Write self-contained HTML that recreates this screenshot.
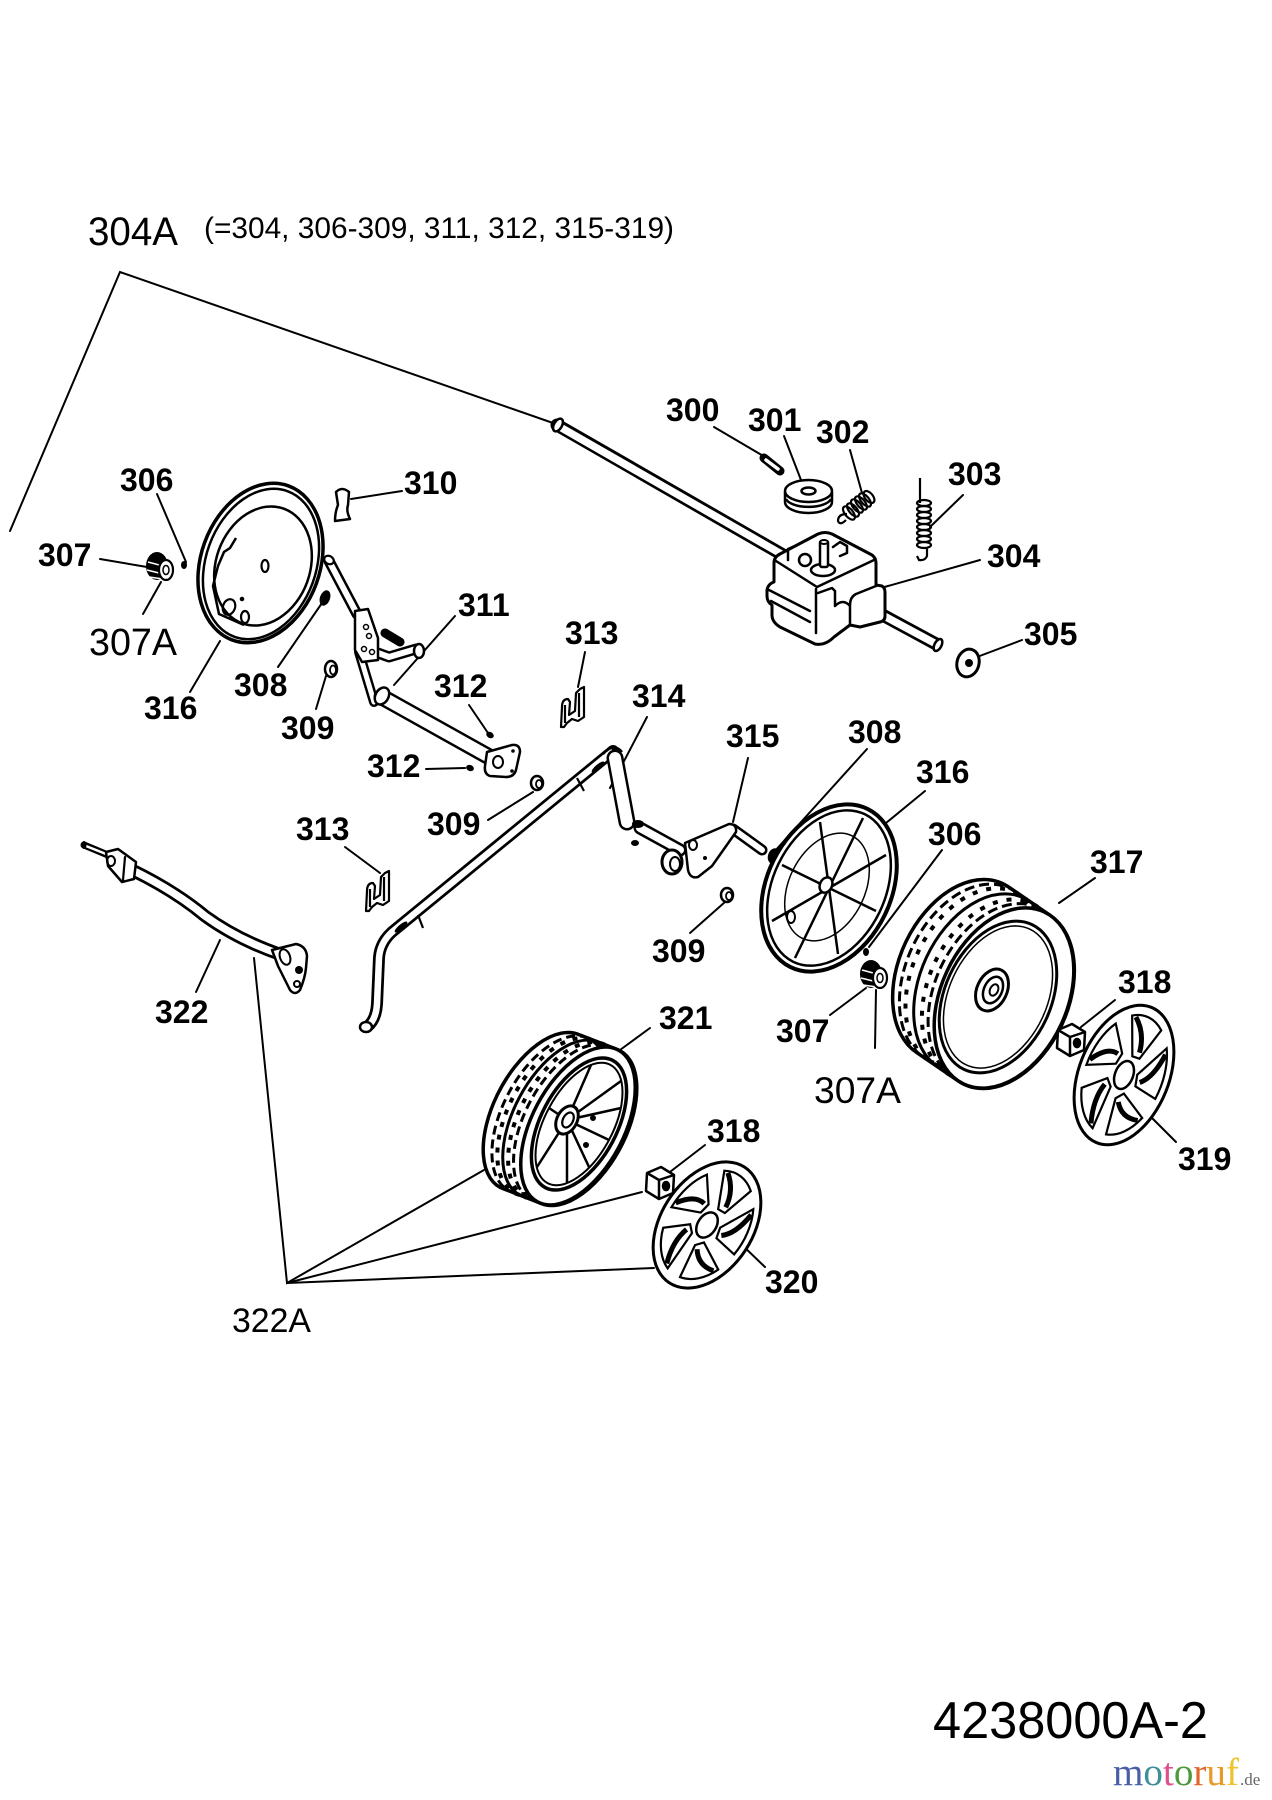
<!DOCTYPE html>
<html><head><meta charset="utf-8"><title>4238000A-2</title><style>
html,body{margin:0;padding:0;background:#fff;}
svg{display:block;}
.b{font-family:"Liberation Sans",Arial,sans-serif;font-weight:bold;font-size:32px;fill:#000;stroke:none;}
.n{font-family:"Liberation Sans",Arial,sans-serif;fill:#000;stroke:none;}
</style></head><body>
<svg width="1272" height="1800" viewBox="0 0 1272 1800" xmlns="http://www.w3.org/2000/svg" xmlns:xlink="http://www.w3.org/1999/xlink">
<rect width="1272" height="1800" fill="#fff"/>
<defs>
<g id="win">
<path d="M19,-5 L46,-39 A60,60 0 0 1 59,10 L23,6 Z" fill="#fff" stroke="#000" stroke-width="2.2" vector-effect="non-scaling-stroke"/>
<path d="M27,1 Q44,-8 48,-33" fill="none" stroke="#000" stroke-width="5" vector-effect="non-scaling-stroke"/>
</g>
<g id="hc">
<circle r="70" fill="#fff" stroke="#000" stroke-width="3" vector-effect="non-scaling-stroke"/>
<use href="#win"/>
<use href="#win" transform="rotate(72)"/>
<use href="#win" transform="rotate(144)"/>
<use href="#win" transform="rotate(216)"/>
<use href="#win" transform="rotate(288)"/>
<circle r="14" fill="#fff" stroke="#000" stroke-width="2.5" vector-effect="non-scaling-stroke"/>
</g>
<g id="clip" fill="#fff" stroke="#000" stroke-width="2.2" stroke-linejoin="round">
<path d="M3,40 L4,20 Q4,12 10,12 L12,15 L11,28 L17,24 L18,6 L22,2 L26,0 L26,30 L20,34 L14,32 L9,36 L6,40 Z"/>
<path d="M21,6 L21,30 M7,18 L7,36" fill="none"/>
</g>
<g id="pin">
<ellipse cx="-4" cy="-2" rx="11" ry="14" fill="#000"/>
<path d="M-13,-6 L2,-2 M-14,2 L2,6 M-12,9 L2,11" stroke="#fff" stroke-width="1.5" fill="none"/>
<ellipse cx="5" cy="2" rx="7" ry="10" fill="#fff" stroke="#000" stroke-width="2.2"/>
<ellipse cx="5" cy="2" rx="3" ry="4.5" fill="none" stroke="#000" stroke-width="1.5"/>
</g>
<g id="nut" stroke="#000" stroke-width="2.5" stroke-linejoin="round">
<polygon points="-13,-10 1,-16 14,-8 13,10 -1,16 -14,8" fill="#fff"/>
<path d="M-13,-10 L-1,-3 L14,-8 M-1,-3 L-1,16" fill="none"/>
<ellipse cx="6" cy="3" rx="3" ry="4" fill="#000"/>
</g>
</defs>

<!-- leader lines -->
<g stroke="#000" stroke-width="2" fill="none" stroke-linecap="round">
<polyline points="10,531 120,272 553,423"/>
<line x1="157" y1="494" x2="186" y2="562"/>
<line x1="100" y1="559" x2="147" y2="567"/>
<line x1="161" y1="582" x2="143" y2="614"/>
<line x1="220" y1="641" x2="190" y2="692"/>
<line x1="351" y1="499" x2="402" y2="491"/>
<line x1="322" y1="603" x2="278" y2="667"/>
<line x1="326" y1="676" x2="316" y2="709"/>
<line x1="455" y1="616" x2="394" y2="685"/>
<line x1="469" y1="705" x2="488" y2="733"/>
<line x1="426" y1="769" x2="465" y2="768"/>
<line x1="585" y1="652" x2="578" y2="687"/>
<line x1="345" y1="847" x2="380" y2="873"/>
<line x1="533" y1="792" x2="488" y2="820"/>
<line x1="647" y1="717" x2="610" y2="788"/>
<line x1="748" y1="758" x2="733" y2="822"/>
<line x1="867" y1="749" x2="774" y2="852"/>
<line x1="925" y1="791" x2="886" y2="823"/>
<line x1="942" y1="850" x2="869" y2="947"/>
<line x1="725" y1="902" x2="690" y2="933"/>
<line x1="866" y1="988" x2="830" y2="1015"/>
<line x1="876" y1="990" x2="875" y2="1048"/>
<line x1="1095" y1="878" x2="1059" y2="903"/>
<line x1="1115" y1="1000" x2="1081" y2="1027"/>
<line x1="1146" y1="1112" x2="1176" y2="1142"/>
<line x1="714" y1="427" x2="765" y2="457"/>
<line x1="784" y1="436" x2="801" y2="480"/>
<line x1="850" y1="450" x2="862" y2="493"/>
<line x1="963" y1="495" x2="930" y2="527"/>
<line x1="980" y1="560" x2="881" y2="588"/>
<line x1="977" y1="657" x2="1022" y2="640"/>
<line x1="220" y1="940" x2="196" y2="992"/>
<polyline points="254,958 287,1283 484,1170"/>
<line x1="287" y1="1283" x2="642" y2="1192"/>
<line x1="287" y1="1283" x2="654" y2="1268"/>
<line x1="650" y1="1028" x2="620" y2="1050"/>
<line x1="705" y1="1145" x2="666" y2="1175"/>
<line x1="739" y1="1242" x2="765" y2="1267"/>
</g>

<!-- cable rod 304 -->
<line x1="557" y1="425" x2="790" y2="559" stroke="#000" stroke-width="13" stroke-linecap="round"/>
<line x1="560" y1="427" x2="790" y2="559" stroke="#fff" stroke-width="7.5"/>
<ellipse cx="558" cy="425" rx="4" ry="7" transform="rotate(30 558 425)" fill="#fff" stroke="#000" stroke-width="2.5"/>

<!-- output shaft -->
<line x1="866" y1="606" x2="938" y2="645" stroke="#000" stroke-width="13" stroke-linecap="butt"/>
<line x1="860" y1="603" x2="938" y2="645" stroke="#fff" stroke-width="7.5"/>
<ellipse cx="938" cy="645" rx="3.5" ry="6.5" transform="rotate(28 938 645)" fill="#fff" stroke="#000" stroke-width="2.5"/>

<!-- gearbox -->
<g stroke="#000" stroke-width="3" stroke-linejoin="round" stroke-linecap="round">
<path d="M774,563 Q774,557 780,554 L818,534 Q825,531 832,534 L872,555 Q876,558 876,563 L876,585 L882,586 Q885,588 885,592 L885,616 Q885,621 880,622 L860,627 L850,625 L834,637 Q825,646 815,644 L780,627 Q772,622 772,615 L772,605 Q767,602 767,596 L767,590 Q768,584 774,582 Z" fill="#fff"/>
<path d="M776,561 L817,587 L874,560 M816,589 L816,633 M769,590 L810,611 M771,601 L810,622 M856,594 L876,586 M856,594 Q850,597 850,605 L850,625 M818,593 L832,588 L835,591 L835,606 Q843,598 850,606" fill="none" stroke-width="2.5"/>
<circle cx="805" cy="560" r="6" fill="#fff" stroke-width="2.5"/>
<ellipse cx="823" cy="570" rx="12" ry="6" fill="#fff" stroke-width="2.5"/>
<rect x="820" y="541" width="8" height="26" rx="2" fill="#fff" stroke-width="2.5"/>
<ellipse cx="824" cy="542" rx="4" ry="2" fill="#fff" stroke-width="2"/>
<path d="M833,547 L840,542 L847,546 L847,553 L840,556 M788,560 L788,549 L795,546" fill="none" stroke-width="2.5"/>
</g>

<!-- 305 washer -->
<ellipse cx="968" cy="663" rx="11" ry="14" transform="rotate(15 968 663)" fill="#fff" stroke="#000" stroke-width="3"/>
<circle cx="969" cy="663" r="4" fill="#000"/>

<!-- 300 pin -->
<line x1="764" y1="458" x2="780" y2="471" stroke="#000" stroke-width="9" stroke-linecap="round"/>
<line x1="766" y1="460" x2="778" y2="469" stroke="#fff" stroke-width="3.5" stroke-linecap="round"/>

<!-- 301 pulley -->
<g stroke="#000" stroke-width="2.5" fill="#fff">
<path d="M785,492 L785,502 A23.5,11 0 0 0 832,502 L832,492"/>
<path d="M786,499 A23,10 0 0 0 831,499" fill="none"/>
<ellipse cx="808.5" cy="491" rx="23.5" ry="11"/>
<ellipse cx="808.5" cy="491" rx="7" ry="3.5"/>
</g>

<!-- 302 spring -->
<g stroke="#000" stroke-width="2.2" fill="none">
<path d="M847,514 Q838,514 838,521 Q840,526 846,520"/>
<ellipse cx="849" cy="513" rx="4" ry="8" transform="rotate(-40 849 513)"/>
<ellipse cx="853" cy="510" rx="4" ry="8" transform="rotate(-40 853 510)"/>
<ellipse cx="857" cy="506" rx="4" ry="8" transform="rotate(-40 857 506)"/>
<ellipse cx="861" cy="503" rx="4" ry="8" transform="rotate(-40 861 503)"/>
<ellipse cx="865" cy="500" rx="4" ry="8" transform="rotate(-40 865 500)"/>
<ellipse cx="869" cy="497" rx="4" ry="7" transform="rotate(-40 869 497)"/>
</g>

<!-- 303 spring -->
<g stroke="#000" stroke-width="2.2" fill="none">
<path d="M920,478 L920,503"/>
<ellipse cx="924" cy="503" rx="7" ry="3"/>
<ellipse cx="924" cy="509" rx="7" ry="3"/>
<ellipse cx="924" cy="515" rx="7" ry="3"/>
<ellipse cx="924" cy="521" rx="7" ry="3"/>
<ellipse cx="924" cy="527" rx="7" ry="3"/>
<ellipse cx="924" cy="533" rx="7" ry="3"/>
<ellipse cx="924" cy="539" rx="7" ry="3"/>
<ellipse cx="924" cy="545" rx="7" ry="3"/>
<path d="M927,548 L927,556 Q925,561 919,560 L917,556"/>
</g>

<!-- left plate 316 -->
<g stroke="#000" fill="none">
<ellipse cx="260.5" cy="563" rx="59.5" ry="82" transform="rotate(20 260.5 563)" fill="#fff" stroke-width="3.5"/>
<ellipse cx="261" cy="564" rx="55" ry="77.5" transform="rotate(20 261 564)" stroke-width="2.5"/>
<ellipse cx="263" cy="566" rx="47" ry="61" transform="rotate(20 263 566)" stroke-width="2.5"/>
<path d="M236,538 L230,548 L224,552 L218,566 L213,586 L219,614 L244,625" stroke-width="2.5"/>
<ellipse cx="265" cy="566" rx="3.5" ry="6" stroke-width="2.2"/>
<ellipse cx="229" cy="607" rx="6" ry="8" transform="rotate(20 229 607)" stroke-width="2.2"/>
<ellipse cx="245" cy="617" rx="4" ry="6" stroke-width="2.2"/>
<circle cx="242" cy="599" r="1.8" fill="#000"/>
</g>

<!-- 307 left pinion, 306 screw -->
<use href="#pin" transform="translate(161,568)"/>
<ellipse cx="184" cy="565" rx="3" ry="4" fill="#000"/>

<!-- 310 knob -->
<path d="M336,492 Q342,486 349,492 L348,505 Q346,511 350,519 L335,521 Q335,512 338,505 Z" fill="#fff" stroke="#000" stroke-width="2.5" stroke-linejoin="round"/>
<!-- 308, 309 left -->
<ellipse cx="325" cy="598" rx="5" ry="8" transform="rotate(20 325 598)" fill="#000"/>
<ellipse cx="331" cy="669" rx="6" ry="8" fill="#fff" stroke="#000" stroke-width="2.5"/>
<ellipse cx="333" cy="670" rx="3" ry="4.5" fill="none" stroke="#000" stroke-width="1.8"/>

<!-- lever 311 -->
<g stroke-linecap="round" stroke-linejoin="round">
<polyline points="329,561 357,614" fill="none" stroke="#000" stroke-width="11"/>
<polyline points="329,561 357,614" fill="none" stroke="#fff" stroke-width="6"/>
<polyline points="359,652 374,702" fill="none" stroke="#000" stroke-width="10"/>
<polyline points="359,652 374,702" fill="none" stroke="#fff" stroke-width="5"/>
<line x1="385" y1="633" x2="400" y2="642" stroke="#000" stroke-width="9"/>
<polyline points="378,653 389,657 416,649" fill="none" stroke="#000" stroke-width="11"/>
<polyline points="378,653 389,657 416,649" fill="none" stroke="#fff" stroke-width="6"/>
<ellipse cx="419" cy="651" rx="5" ry="7" fill="#fff" stroke="#000" stroke-width="2.5"/>
<path d="M355,611 L368,609 L378,638 L378,660 L362,662 L355,650 Z" fill="#fff" stroke="#000" stroke-width="2.5"/>
<circle cx="366" cy="627" r="2.5" fill="none" stroke="#000" stroke-width="1.5"/>
<circle cx="369" cy="636" r="2.5" fill="none" stroke="#000" stroke-width="1.5"/>
<circle cx="364" cy="649" r="2.5" fill="none" stroke="#000" stroke-width="1.5"/>
<circle cx="372" cy="652" r="2.5" fill="none" stroke="#000" stroke-width="1.5"/>
<ellipse cx="329" cy="560" rx="5" ry="4" transform="rotate(30 329 560)" fill="#fff" stroke="#000" stroke-width="2.2"/>
<line x1="382" y1="697" x2="493" y2="759" stroke="#000" stroke-width="17"/>
<line x1="382" y1="697" x2="493" y2="759" stroke="#fff" stroke-width="12"/>
<ellipse cx="382" cy="696" rx="6.5" ry="9" transform="rotate(30 382 696)" fill="#fff" stroke="#000" stroke-width="2.5"/>
<path d="M487,752 L512,745 Q520,744 520,752 L516,770 Q514,777 506,777 L490,776 Q484,774 485,766 Z" fill="#fff" stroke="#000" stroke-width="2.5"/>
<ellipse cx="498" cy="762" rx="5" ry="6" fill="none" stroke="#000" stroke-width="2"/>
<circle cx="513" cy="751" r="1.8" fill="#000"/>
<circle cx="512" cy="771" r="1.8" fill="#000"/>
</g>
<!-- 312 screws -->
<ellipse cx="490" cy="735" rx="4" ry="3" transform="rotate(30 490 735)" fill="#000"/>
<ellipse cx="470" cy="768" rx="4" ry="3" transform="rotate(20 470 768)" fill="#000"/>
<!-- 313 clips -->
<use href="#clip" transform="translate(558,687)"/>
<use href="#clip" transform="translate(363,871)"/>
<!-- 309 mid -->
<ellipse cx="537" cy="783" rx="6" ry="7" fill="#fff" stroke="#000" stroke-width="2.5"/>
<ellipse cx="539" cy="784" rx="3" ry="4" fill="none" stroke="#000" stroke-width="1.8"/>

<!-- link bar 314 -->
<g fill="none" stroke-linejoin="round">
<path d="M613,751 L392,932 Q380,943 379,958 L377,1004 Q376,1020 367,1027" stroke="#000" stroke-width="12" stroke-linecap="round"/>
<path d="M613,751 L392,932 Q380,943 379,958 L377,1004 Q376,1020 367,1027" stroke="#fff" stroke-width="6.5"/>
<line x1="615" y1="758" x2="627" y2="822" stroke="#000" stroke-width="17" stroke-linecap="round"/>
<line x1="615" y1="758" x2="627" y2="822" stroke="#fff" stroke-width="12" stroke-linecap="round"/>
<path d="M603,754 Q614,742 622,752" stroke="#000" stroke-width="2.5"/>
<ellipse cx="598" cy="767" rx="8" ry="2.5" transform="rotate(-40 598 767)" fill="#000"/>
<ellipse cx="401" cy="927" rx="8" ry="2.5" transform="rotate(-40 401 927)" fill="#000"/>
<line x1="577" y1="778" x2="584" y2="791" stroke="#000" stroke-width="2.2"/>
<line x1="418" y1="915" x2="423" y2="928" stroke="#000" stroke-width="2.2"/>
<ellipse cx="366" cy="1027" rx="6" ry="5" fill="#fff" stroke="#000" stroke-width="2.5"/>
</g>

<!-- part 315 -->
<g stroke-linecap="round" stroke-linejoin="round">
<line x1="640" y1="828" x2="680" y2="850" stroke="#000" stroke-width="13"/>
<line x1="640" y1="828" x2="680" y2="850" stroke="#fff" stroke-width="8"/>
<ellipse cx="638" cy="824" rx="6" ry="4" fill="#000"/>
<ellipse cx="635" cy="843" rx="4" ry="3" fill="#000"/>
<line x1="733" y1="829" x2="762" y2="850" stroke="#000" stroke-width="11"/>
<line x1="733" y1="829" x2="762" y2="850" stroke="#fff" stroke-width="6"/>
<path d="M685,843 L729,824 Q737,824 736,832 L712,866 L698,877 Q690,879 688,870 Z" fill="#fff" stroke="#000" stroke-width="2.5"/>
<circle cx="705" cy="858" r="2" fill="#000"/>
<ellipse cx="693" cy="845" rx="4" ry="5" fill="none" stroke="#000" stroke-width="2"/>
<ellipse cx="672" cy="862" rx="10" ry="12" fill="#fff" stroke="#000" stroke-width="3"/>
<ellipse cx="675" cy="864" rx="5" ry="7" fill="none" stroke="#000" stroke-width="2"/>
</g>
<!-- 308, 309 right -->
<ellipse cx="774" cy="856" rx="6" ry="8" transform="rotate(20 774 856)" fill="#000"/>
<ellipse cx="727" cy="895" rx="6" ry="7" fill="#fff" stroke="#000" stroke-width="2.5"/>
<ellipse cx="729" cy="896" rx="3" ry="4" fill="none" stroke="#000" stroke-width="1.8"/>

<!-- right plate 316 -->
<g stroke="#000" fill="none">
<ellipse cx="829" cy="888" rx="62" ry="88" transform="rotate(26 829 888)" fill="#fff" stroke-width="4"/>
<ellipse cx="829" cy="888" rx="56" ry="82" transform="rotate(26 829 888)" stroke-width="2.5"/>
<ellipse cx="827" cy="887" rx="38" ry="57" transform="rotate(26 827 887)" stroke-width="1.5"/>
<g stroke-width="2.5">
<line x1="829" y1="888" x2="876" y2="911"/>
<line x1="829" y1="888" x2="838" y2="954"/>
<line x1="829" y1="888" x2="795" y2="958"/>
<line x1="829" y1="888" x2="772" y2="921"/>
<line x1="829" y1="888" x2="782" y2="865"/>
<line x1="829" y1="888" x2="820" y2="822"/>
<line x1="829" y1="888" x2="863" y2="818"/>
<line x1="829" y1="888" x2="886" y2="855"/>
</g>
<ellipse cx="826" cy="885" rx="6" ry="8" transform="rotate(26 826 885)" fill="#fff" stroke-width="2.5"/>
<ellipse cx="791" cy="917" rx="4" ry="6" stroke-width="2"/>
</g>

<!-- 307 right pinion, 306 screw -->
<use href="#pin" transform="translate(875,976)"/>
<ellipse cx="866" cy="952" rx="3" ry="4" fill="#000"/>

<!-- wheel 317 -->
<g stroke="#000">
<path d="M1009.1,887.3 A63,95 25 1 0 916.9,1052.7 L957.9,1080.7 A63,95 25 1 0 1050.1,915.3 Z" fill="#fff" stroke-width="3.5"/>
<ellipse cx="969.2" cy="974.2" rx="63" ry="95" transform="rotate(25 969.2 974.2)" fill="none" stroke-width="3" stroke-dasharray="10 5"/>
<ellipse cx="975.3" cy="978.4" rx="63" ry="95" transform="rotate(25 975.3 978.4)" fill="none" stroke-width="4" stroke-dasharray="5 9" stroke-dashoffset="4"/>
<ellipse cx="983.5" cy="984" rx="63" ry="95" transform="rotate(25 983.5 984)" fill="none" stroke-width="3"/>
<ellipse cx="991.7" cy="989.6" rx="63" ry="95" transform="rotate(25 991.7 989.6)" fill="none" stroke-width="4" stroke-dasharray="5 9"/>
<ellipse cx="997.9" cy="993.8" rx="63" ry="95" transform="rotate(25 997.9 993.8)" fill="none" stroke-width="3" stroke-dasharray="10 5" stroke-dashoffset="6"/>
<ellipse cx="1004" cy="998" rx="63" ry="95" transform="rotate(25 1004 998)" fill="#fff" stroke-width="3.5"/>
<ellipse cx="998" cy="997" rx="53" ry="80" transform="rotate(25 998 997)" fill="none" stroke-width="3"/>
<ellipse cx="998" cy="997" rx="49" ry="75" transform="rotate(25 998 997)" fill="none" stroke-width="1.5"/>
<ellipse cx="992" cy="990" rx="15" ry="22" transform="rotate(25 992 990)" fill="#fff" stroke-width="3"/>
<ellipse cx="993" cy="990" rx="9" ry="14" transform="rotate(25 993 990)" fill="none" stroke-width="2.5"/>
<ellipse cx="994" cy="990" rx="4" ry="6" transform="rotate(25 994 990)" fill="none" stroke-width="2"/>
</g>

<!-- 318 nuts -->
<use href="#nut" transform="translate(1071,1040)"/>
<use href="#nut" transform="translate(660,1183)"/>

<!-- hubcaps -->
<use href="#hc" transform="translate(1124,1075) rotate(22) scale(0.643,1.043)"/>
<use href="#hc" transform="translate(707,1225) rotate(33) scale(0.657,0.986)"/>

<!-- wheel 321 -->
<g stroke="#000">
<path d="M579.7,1034.9 A46,86 28 1 0 504.3,1189.1 L540.3,1203.1 A46,86 28 1 0 615.7,1048.9 Z" fill="#fff" stroke-width="3.5"/>
<ellipse cx="549.2" cy="1114.8" rx="46" ry="86" transform="rotate(28 549.2 1114.8)" fill="none" stroke-width="3" stroke-dasharray="9 5"/>
<ellipse cx="554.6" cy="1116.9" rx="46" ry="86" transform="rotate(28 554.6 1116.9)" fill="none" stroke-width="4" stroke-dasharray="5 8" stroke-dashoffset="4"/>
<ellipse cx="560" cy="1119" rx="46" ry="86" transform="rotate(28 560 1119)" fill="none" stroke-width="3"/>
<ellipse cx="565.4" cy="1121.1" rx="46" ry="86" transform="rotate(28 565.4 1121.1)" fill="none" stroke-width="4" stroke-dasharray="5 8"/>
<ellipse cx="570.8" cy="1123.2" rx="46" ry="86" transform="rotate(28 570.8 1123.2)" fill="none" stroke-width="3" stroke-dasharray="9 5" stroke-dashoffset="6"/>
<ellipse cx="578" cy="1126" rx="46" ry="86" transform="rotate(28 578 1126)" fill="#fff" stroke-width="3.5"/>
<ellipse cx="579" cy="1124" rx="38" ry="72" transform="rotate(28 579 1124)" fill="none" stroke-width="3.5"/>
<ellipse cx="579" cy="1124" rx="34" ry="67" transform="rotate(28 579 1124)" fill="none" stroke-width="2"/>
<g stroke-width="2.5">
<line x1="567" y1="1120" x2="609" y2="1140"/>
<line x1="567" y1="1120" x2="589" y2="1167"/>
<line x1="567" y1="1120" x2="567" y2="1183"/>
<line x1="567" y1="1120" x2="537" y2="1167"/>
<line x1="567" y1="1120" x2="549" y2="1108"/>
<line x1="567" y1="1120" x2="591" y2="1065"/>
<line x1="567" y1="1120" x2="621" y2="1081"/>
<line x1="567" y1="1120" x2="621" y2="1108"/>
</g>
<ellipse cx="567" cy="1120" rx="10" ry="15" transform="rotate(28 567 1120)" fill="#fff" stroke-width="3"/>
<ellipse cx="568" cy="1120" rx="5" ry="8" transform="rotate(28 568 1120)" fill="none" stroke-width="2.2"/>
<circle cx="593" cy="1118" r="2.5" fill="#000"/>
<circle cx="586" cy="1145" r="2.5" fill="#000"/>
</g>

<!-- cable 322 -->
<g stroke-linecap="round" stroke-linejoin="round">
<line x1="84" y1="845" x2="108" y2="855" stroke="#000" stroke-width="7"/>
<line x1="86" y1="846" x2="106" y2="854" stroke="#fff" stroke-width="2.5"/>
<ellipse cx="84" cy="845" rx="2.5" ry="4" fill="#000"/>
<path d="M132,870 Q175,891 205,916 Q238,940 282,955" fill="none" stroke="#000" stroke-width="13"/>
<path d="M132,870 Q175,891 205,916 Q238,940 282,955" fill="none" stroke="#fff" stroke-width="7.5"/>
<path d="M106,852 L118,849 L136,862 L134,879 L122,882 L108,866 Z" fill="#fff" stroke="#000" stroke-width="2.5"/>
<ellipse cx="111" cy="861" rx="4" ry="5" fill="none" stroke="#000" stroke-width="2"/>
<line x1="125" y1="857" x2="123" y2="880" stroke="#000" stroke-width="2.2"/>
<path d="M272,950 L296,944 Q306,946 307,956 L306,968 Q305,978 300,990 Q295,996 290,990 L278,966 Z" fill="#fff" stroke="#000" stroke-width="2.5"/>
<ellipse cx="285" cy="957" rx="5" ry="8" transform="rotate(-20 285 957)" fill="none" stroke="#000" stroke-width="2"/>
<circle cx="299" cy="970" r="4" fill="#000"/>
<circle cx="297" cy="984" r="3" fill="none" stroke="#000" stroke-width="2"/>
</g>

<!-- normal labels -->
<text class="n" x="88" y="245" font-size="40" textLength="90" lengthAdjust="spacingAndGlyphs">304A</text>
<text class="n" x="204" y="238" font-size="29.5" textLength="470" lengthAdjust="spacingAndGlyphs">(=304, 306-309, 311, 312, 315-319)</text>
<text class="n" x="89" y="655" font-size="38" textLength="88" lengthAdjust="spacingAndGlyphs">307A</text>
<text class="n" x="814" y="1103" font-size="37" textLength="87" lengthAdjust="spacingAndGlyphs">307A</text>
<text class="n" x="232" y="1332" font-size="34" textLength="79" lengthAdjust="spacingAndGlyphs">322A</text>
<text class="n" x="933" y="1738" font-size="52" textLength="275" lengthAdjust="spacingAndGlyphs">4238000A-2</text>

<!-- bold labels -->
<text class="b" x="120" y="491">306</text>
<text class="b" x="38" y="566">307</text>
<text class="b" x="144" y="719">316</text>
<text class="b" x="404" y="494">310</text>
<text class="b" x="234" y="696">308</text>
<text class="b" x="281" y="739">309</text>
<text class="b" x="458" y="616">311</text>
<text class="b" x="434" y="697">312</text>
<text class="b" x="367" y="777">312</text>
<text class="b" x="565" y="644">313</text>
<text class="b" x="296" y="840">313</text>
<text class="b" x="427" y="835">309</text>
<text class="b" x="632" y="707">314</text>
<text class="b" x="726" y="747">315</text>
<text class="b" x="848" y="743">308</text>
<text class="b" x="916" y="783">316</text>
<text class="b" x="928" y="845">306</text>
<text class="b" x="652" y="962">309</text>
<text class="b" x="776" y="1042">307</text>
<text class="b" x="1090" y="873">317</text>
<text class="b" x="1118" y="993">318</text>
<text class="b" x="1178" y="1170">319</text>
<text class="b" x="666" y="421">300</text>
<text class="b" x="748" y="431">301</text>
<text class="b" x="816" y="443">302</text>
<text class="b" x="948" y="485">303</text>
<text class="b" x="987" y="567">304</text>
<text class="b" x="1024" y="645">305</text>
<text class="b" x="155" y="1023">322</text>
<text class="b" x="659" y="1029">321</text>
<text class="b" x="707" y="1142">318</text>
<text class="b" x="765" y="1293">320</text>

<!-- watermark -->
<text x="1113" y="1785" font-family="'Liberation Serif','Times New Roman',serif" font-size="39" textLength="126" lengthAdjust="spacingAndGlyphs"><tspan fill="#4a5ea8">m</tspan><tspan fill="#3f8f9a">o</tspan><tspan fill="#e0508c">t</tspan><tspan fill="#4f9a3c">o</tspan><tspan fill="#e2662a">r</tspan><tspan fill="#e99a26">u</tspan><tspan fill="#eec22a">f</tspan></text>
<text x="1240" y="1785" font-family="'Liberation Serif','Times New Roman',serif" font-size="17" fill="#666">.de</text>
</svg>
</body></html>
